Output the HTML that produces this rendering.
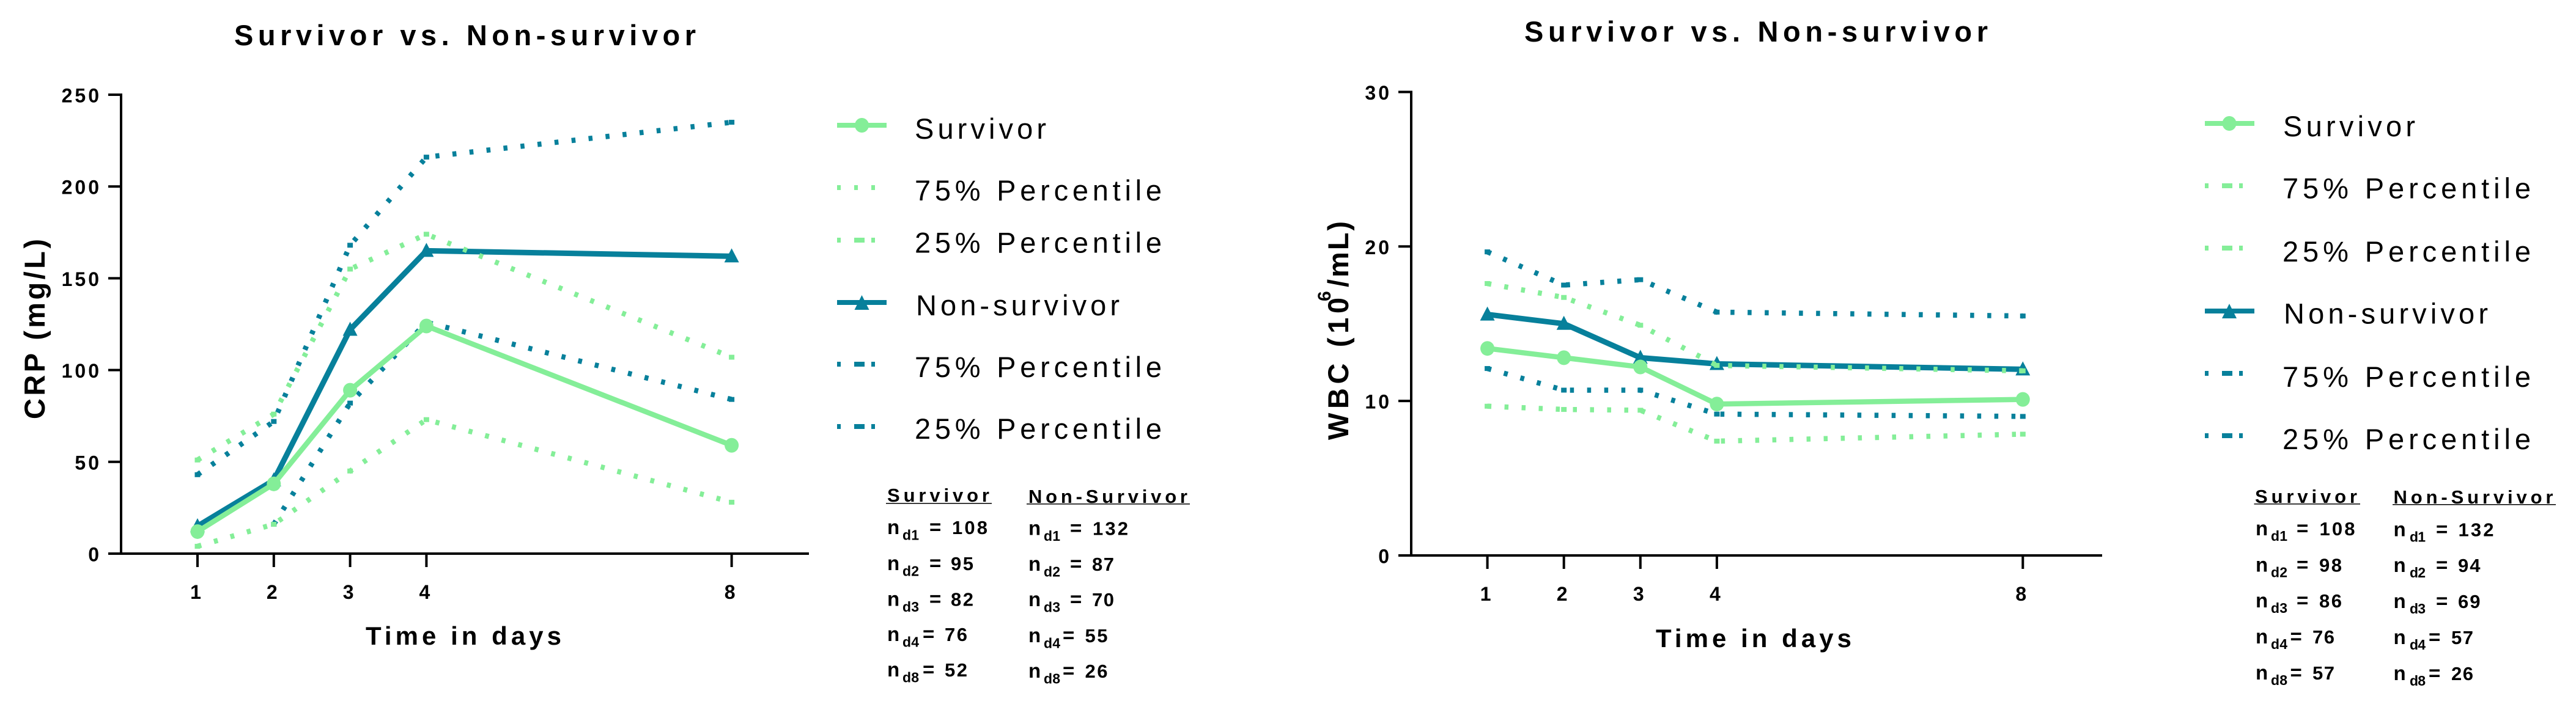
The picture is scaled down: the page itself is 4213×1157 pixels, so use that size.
<!DOCTYPE html>
<html lang="en">
<head>
<meta charset="utf-8">
<title>Survivor vs. Non-survivor: CRP and WBC</title>
<style>
html,body{margin:0;padding:0;background:#fff;width:4213px;height:1157px;overflow:hidden}
svg{display:block}
text{font-family:"Liberation Sans",Arial,sans-serif;fill:#000}
.b{font-weight:bold}
.title{font-size:47px;font-weight:bold}
.axt{font-size:47px;font-weight:bold}
.xt{font-size:42px;font-weight:bold}
.leg{font-size:47px}
.th{font-size:31px;font-weight:bold}
.n{font-size:33px;font-weight:bold}
.s{font-size:23px;font-weight:bold}
.v{font-size:31px;font-weight:bold}
.tick{font-size:32px;font-weight:bold}
</style>
</head>
<body>
<svg id="figure" xmlns="http://www.w3.org/2000/svg" width="4213" height="1157" viewBox="0 0 4213 1157">
<rect width="4213" height="1157" fill="#fff"/>

<!-- LEFT PANEL TEXT -->
<g>
<text class="title" x="383" y="74" textLength="755">Survivor vs. Non-survivor</text>
<text class="axt" transform="translate(73,686) rotate(-90)" textLength="295">CRP (mg/L)</text>
<text class="xt" x="598" y="1055" textLength="320">Time in days</text>
</g>
<g id="crp-chart"></g>

<g>
<g>
<rect x="1369" y="201" width="81" height="8" fill="#84EE98"/><ellipse cx="1409.5" cy="205" rx="11.5" ry="12" fill="#84EE98"/>
<text class="leg" x="1496" y="227" textLength="215">Survivor</text></g>
<g>
<rect x="1369" y="303" width="6" height="8" fill="#84EE98"/><rect x="1397" y="303" width="6" height="8" fill="#84EE98"/><rect x="1425" y="303" width="6" height="8" fill="#84EE98"/>
<text class="leg" x="1496" y="328" textLength="404">75% Percentile</text></g>
<g>
<rect x="1369" y="389" width="6" height="8" fill="#84EE98"/><rect x="1397" y="389" width="17" height="8" fill="#84EE98"/><rect x="1425" y="389" width="6" height="8" fill="#84EE98"/>
<text class="leg" x="1496" y="413.5" textLength="404">25% Percentile</text></g>
<g>
<rect x="1369" y="491" width="81" height="8" fill="#07809B"/><polygon points="1409.5,483 1421.5,507 1397.5,507" fill="#07809B"/>
<text class="leg" x="1498" y="516" textLength="333">Non-survivor</text></g>
<g>
<rect x="1369" y="592" width="6" height="8" fill="#07809B"/><rect x="1397" y="592" width="17" height="8" fill="#07809B"/><rect x="1425" y="592" width="6" height="8" fill="#07809B"/>
<text class="leg" x="1496" y="617" textLength="404">75% Percentile</text></g>
<g>
<rect x="1369" y="694" width="6" height="8" fill="#07809B"/><rect x="1397" y="694" width="17" height="8" fill="#07809B"/><rect x="1425" y="694" width="6" height="8" fill="#07809B"/>
<text class="leg" x="1496" y="718" textLength="404">25% Percentile</text></g>
</g>

<g>
<text class="th" x="1451" y="821" textLength="167">Survivor</text>
<rect x="1449" y="823" width="173" height="1.5" fill="#000"/>
<text class="th" x="1682" y="823" textLength="260">Non-Survivor</text>
<rect x="1679" y="824" width="267" height="1.5" fill="#000"/>

<g><text class="n" x="1451" y="874">n</text><text class="s" x="1476" y="883.5" textLength="27">d1</text><text class="n" x="1520" y="874">=</text><text class="v" x="1557" y="874" textLength="58">108</text></g>
<g><text class="n" x="1451" y="933">n</text><text class="s" x="1476" y="942.5" textLength="27">d2</text><text class="n" x="1520" y="933">=</text><text class="v" x="1555" y="933" textLength="37">95</text></g>
<g><text class="n" x="1451" y="991.5">n</text><text class="s" x="1476" y="1001" textLength="27">d3</text><text class="n" x="1520" y="991.5">=</text><text class="v" x="1555" y="991.5" textLength="37">82</text></g>
<g><text class="n" x="1451" y="1049">n</text><text class="s" x="1476" y="1058.5" textLength="27">d4</text><text class="n" x="1509" y="1049">=</text><text class="v" x="1545" y="1049" textLength="37">76</text></g>
<g><text class="n" x="1451" y="1107">n</text><text class="s" x="1476" y="1116.5" textLength="27">d8</text><text class="n" x="1509" y="1107">=</text><text class="v" x="1545" y="1107" textLength="37">52</text></g>

<g><text class="n" x="1682" y="875.5">n</text><text class="s" x="1707" y="885" textLength="27">d1</text><text class="n" x="1750" y="875.5">=</text><text class="v" x="1787" y="875.5" textLength="58">132</text></g>
<g><text class="n" x="1682" y="934">n</text><text class="s" x="1707" y="943.5" textLength="27">d2</text><text class="n" x="1750" y="934">=</text><text class="v" x="1786" y="934" textLength="36">87</text></g>
<g><text class="n" x="1682" y="992">n</text><text class="s" x="1707" y="1001.5" textLength="27">d3</text><text class="n" x="1750" y="992">=</text><text class="v" x="1786" y="992" textLength="36">70</text></g>
<g><text class="n" x="1682" y="1051">n</text><text class="s" x="1707" y="1060.5" textLength="27">d4</text><text class="n" x="1738" y="1051">=</text><text class="v" x="1774.5" y="1051" textLength="37">55</text></g>
<g><text class="n" x="1682" y="1109">n</text><text class="s" x="1707" y="1118.5" textLength="27">d8</text><text class="n" x="1738" y="1109">=</text><text class="v" x="1774.5" y="1109" textLength="37">26</text></g>
</g>

<!-- RIGHT PANEL TEXT -->
<g>
<text class="title" x="2493" y="68" textLength="758">Survivor vs. Non-survivor</text>
<g>
<text class="axt" transform="translate(2205,720) rotate(-90)" textLength="233">WBC (10</text>
<text class="b" style="font-size:30px" transform="translate(2176,493) rotate(-90)">6</text>
<text class="axt" transform="translate(2205,470) rotate(-90)" textLength="108">/mL)</text>
</g>
<text class="xt" x="2708" y="1059" textLength="320">Time in days</text>
</g>
<g id="wbc-chart"></g>

<g>
<g>
<rect x="3606" y="198" width="81" height="8" fill="#84EE98"/><ellipse cx="3646" cy="202" rx="11.5" ry="12" fill="#84EE98"/>
<text class="leg" x="3734" y="223" textLength="216">Survivor</text></g>
<g>
<rect x="3606" y="300" width="6" height="8" fill="#84EE98"/><rect x="3634" y="300" width="17" height="8" fill="#84EE98"/><rect x="3662" y="300" width="6" height="8" fill="#84EE98"/>
<text class="leg" x="3733" y="324.5" textLength="406">75% Percentile</text></g>
<g>
<rect x="3606" y="402" width="6" height="8" fill="#84EE98"/><rect x="3634" y="402" width="17" height="8" fill="#84EE98"/><rect x="3662" y="402" width="6" height="8" fill="#84EE98"/>
<text class="leg" x="3733" y="428" textLength="406">25% Percentile</text></g>
<g>
<rect x="3606" y="505" width="81" height="8" fill="#07809B"/><polygon points="3646,497 3658,521 3634,521" fill="#07809B"/>
<text class="leg" x="3735" y="529.5" textLength="334">Non-survivor</text></g>
<g>
<rect x="3606" y="607" width="6" height="8" fill="#07809B"/><rect x="3634" y="607" width="17" height="8" fill="#07809B"/><rect x="3662" y="607" width="6" height="8" fill="#07809B"/>
<text class="leg" x="3733" y="633" textLength="406">75% Percentile</text></g>
<g>
<rect x="3606" y="709" width="6" height="8" fill="#07809B"/><rect x="3634" y="709" width="17" height="8" fill="#07809B"/><rect x="3662" y="709" width="6" height="8" fill="#07809B"/>
<text class="leg" x="3733" y="735" textLength="406">25% Percentile</text></g>
</g>

<g>
<text class="th" x="3688" y="823" textLength="167">Survivor</text>
<rect x="3686.5" y="824" width="173.5" height="1.5" fill="#000"/>
<text class="th" x="3914.5" y="824" textLength="261">Non-Survivor</text>
<rect x="3913" y="825" width="267" height="1.5" fill="#000"/>

<g><text class="n" x="3689" y="876">n</text><text class="s" x="3714" y="885" textLength="27">d1</text><text class="n" x="3756" y="876">=</text><text class="v" x="3793.5" y="876" textLength="58">108</text></g>
<g><text class="n" x="3689" y="935.5">n</text><text class="s" x="3714" y="944.5" textLength="27">d2</text><text class="n" x="3756" y="935.5">=</text><text class="v" x="3793" y="935.5" textLength="37">98</text></g>
<g><text class="n" x="3689" y="994">n</text><text class="s" x="3714" y="1003" textLength="27">d3</text><text class="n" x="3756" y="994">=</text><text class="v" x="3793" y="994" textLength="37">86</text></g>
<g><text class="n" x="3689" y="1053">n</text><text class="s" x="3714" y="1062" textLength="27">d4</text><text class="n" x="3745.5" y="1053">=</text><text class="v" x="3782" y="1053" textLength="36">76</text></g>
<g><text class="n" x="3689" y="1112">n</text><text class="s" x="3714" y="1121" textLength="27">d8</text><text class="n" x="3745.5" y="1112">=</text><text class="v" x="3782" y="1112" textLength="36">57</text></g>

<g><text class="n" x="3914.5" y="877.5">n</text><text class="s" x="3941" y="886.5" textLength="26">d1</text><text class="n" x="3984" y="877.5">=</text><text class="v" x="4020.5" y="877.5" textLength="58">132</text></g>
<g><text class="n" x="3914.5" y="936">n</text><text class="s" x="3941" y="945" textLength="26">d2</text><text class="n" x="3984" y="936">=</text><text class="v" x="4020" y="936" textLength="36.5">94</text></g>
<g><text class="n" x="3914.5" y="995">n</text><text class="s" x="3941" y="1004" textLength="26">d3</text><text class="n" x="3984" y="995">=</text><text class="v" x="4020" y="995" textLength="36.5">69</text></g>
<g><text class="n" x="3914.5" y="1054">n</text><text class="s" x="3941" y="1063" textLength="26">d4</text><text class="n" x="3972" y="1054">=</text><text class="v" x="4009" y="1054" textLength="36">57</text></g>
<g><text class="n" x="3914.5" y="1113">n</text><text class="s" x="3941" y="1122" textLength="26">d8</text><text class="n" x="3972" y="1113">=</text><text class="v" x="4009" y="1113" textLength="36">26</text></g>
</g>
</svg>

<script>
// ---- Chart data ----
var days = [1, 2, 3, 4, 8];

var crpYTicks = [0, 50, 100, 150, 200, 250];
var crpSurvivor = [12, 38, 89, 124, 59];
var crpSurvivor75 = [51, 76, 155, 174, 107];
var crpSurvivor25 = [4, 16, 45, 73, 28];
var crpNonSurvivor = [15, 40, 122, 165, 162];
var crpNonSurvivor75 = [43, 72, 168, 216, 235];
var crpNonSurvivor25 = [null, 16, 82, 126, 84];

var wbcYTicks = [0, 10, 20, 30];
var wbcSurvivor = [13.4, 12.8, 12.2, 9.8, 10.1];
var wbcSurvivor75 = [17.6, 16.7, 14.9, 12.3, 11.95];
var wbcSurvivor25 = [9.66, 9.45, 9.4, 7.4, 7.85];
var wbcNonSurvivor = [15.6, 15.0, 12.8, 12.4, 12.05];
var wbcNonSurvivor75 = [19.65, 17.5, 17.85, 15.75, 15.5];
var wbcNonSurvivor25 = [12.1, 10.7, 10.7, 9.15, 9.0];

var GREEN = '#84EE98';
var TEAL = '#07809B';
var NS = 'http://www.w3.org/2000/svg';

function make(parent, tag, attrs) {
  var e = document.createElementNS(NS, tag);
  for (var k in attrs) e.setAttribute(k, attrs[k]);
  parent.appendChild(e);
  return e;
}

function pathFrom(xs, ys, xFn, yFn) {
  var d = '';
  for (var i = 0; i < xs.length; i++) {
    if (ys[i] === null) continue;
    d += (d ? 'L' : 'M') + xFn(xs[i]) + ' ' + yFn(ys[i]);
  }
  return d;
}

function drawDotted(root, prefix, label, xs, ys, color, xFn, yFn) {
  var g = make(root, 'g', {});
  
  
  var p = make(g, 'path', {d: pathFrom(xs, ys, xFn, yFn), fill: 'none', stroke: color, 'stroke-width': 8.5, 'stroke-dasharray': '6.5 21.5'});
  
  
  for (var i = 0; i < xs.length; i++) {
    if (ys[i] === null) continue;
    var r = make(g, 'rect', {x: xFn(xs[i]) - 4.5, y: yFn(ys[i]) - 4, width: 9, height: 8, fill: color});
    
    
  }
}

function drawSolid(root, prefix, label, xs, ys, color, marker, width, xFn, yFn) {
  var g = make(root, 'g', {});
  
  
  var p = make(g, 'path', {d: pathFrom(xs, ys, xFn, yFn), fill: 'none', stroke: color, 'stroke-width': width, 'stroke-linejoin': 'round'});
  
  
  for (var i = 0; i < xs.length; i++) {
    var cx = xFn(xs[i]), cy = yFn(ys[i]), m;
    if (marker === 'circle') {
      m = make(g, 'ellipse', {cx: cx, cy: cy, rx: 11.5, ry: 12, fill: color});
    } else {
      m = make(g, 'polygon', {points: cx + ',' + (cy - 13) + ' ' + (cx + 12) + ',' + (cy + 10) + ' ' + (cx - 12) + ',' + (cy + 10), fill: color});
    }
    
    
  }
}

function drawAxes(root, prefix, xs, yTicks, xFn, yFn, geo) {
  var yAxis = make(root, 'rect', {x: geo.axisX - 2, y: yFn(yTicks[yTicks.length - 1]) - 2, width: 4, height: yFn(0) - yFn(yTicks[yTicks.length - 1]) + 4, fill: '#000'});
  
  
  var xAxis = make(root, 'rect', {x: geo.axisX - 2, y: yFn(0) - 2, width: geo.axisEnd - geo.axisX + 2, height: 4, fill: '#000'});
  
  
  yTicks.forEach(function (t) {
    var tm = make(root, 'rect', {x: geo.axisX - 21, y: yFn(t) - 2, width: 21, height: 4, fill: '#000'});
    
    
    var tl = make(root, 'text', {x: geo.yLabelX, y: yFn(t) + 12.5, 'text-anchor': 'end', 'class': 'tick', 'letter-spacing': '4'});
    
    
    tl.textContent = String(t);
  });
  xs.forEach(function (d) {
    var tm = make(root, 'rect', {x: xFn(d) - 2, y: yFn(0), width: 4, height: 22, fill: '#000'});
    
    
    var tl = make(root, 'text', {x: xFn(d) - 3, y: geo.xLabelY, 'text-anchor': 'middle', 'class': 'tick'});
    
    
    tl.textContent = String(d);
  });
}

// ---- CRP panel ----
(function () {
  var root = document.getElementById('crp-chart');
  var xFn = function (d) { return 323 + (d - 1) * 124.8; };
  var yFn = function (v) { return 906 - v * (751 / 250); };
  drawDotted(root, 'crp', 'non-survivor-25', days, crpNonSurvivor25, TEAL, xFn, yFn);
  drawDotted(root, 'crp', 'non-survivor-75', days, crpNonSurvivor75, TEAL, xFn, yFn);
  drawSolid(root, 'crp', 'non-survivor', days, crpNonSurvivor, TEAL, 'triangle', 9, xFn, yFn);
  drawDotted(root, 'crp', 'survivor-25', days, crpSurvivor25, GREEN, xFn, yFn);
  drawDotted(root, 'crp', 'survivor-75', days, crpSurvivor75, GREEN, xFn, yFn);
  drawSolid(root, 'crp', 'survivor', days, crpSurvivor, GREEN, 'circle', 8.5, xFn, yFn);
  drawAxes(root, 'crp', days, crpYTicks, xFn, yFn, {axisX: 198, axisEnd: 1323, yLabelX: 166, xLabelY: 980});
})();

// ---- WBC panel ----
(function () {
  var root = document.getElementById('wbc-chart');
  var xFn = function (d) { return 2432.6 + (d - 1) * 125.1; };
  var yFn = function (v) { return 909 - v * (758.5 / 30); };
  drawDotted(root, 'wbc', 'non-survivor-25', days, wbcNonSurvivor25, TEAL, xFn, yFn);
  drawDotted(root, 'wbc', 'non-survivor-75', days, wbcNonSurvivor75, TEAL, xFn, yFn);
  drawSolid(root, 'wbc', 'non-survivor', days, wbcNonSurvivor, TEAL, 'triangle', 9, xFn, yFn);
  drawDotted(root, 'wbc', 'survivor-25', days, wbcSurvivor25, GREEN, xFn, yFn);
  drawDotted(root, 'wbc', 'survivor-75', days, wbcSurvivor75, GREEN, xFn, yFn);
  drawSolid(root, 'wbc', 'survivor', days, wbcSurvivor, GREEN, 'circle', 8.5, xFn, yFn);
  drawAxes(root, 'wbc', days, wbcYTicks, xFn, yFn, {axisX: 2308, axisEnd: 3438, yLabelX: 2276, xLabelY: 983});
})();
</script>
</body>
</html>
